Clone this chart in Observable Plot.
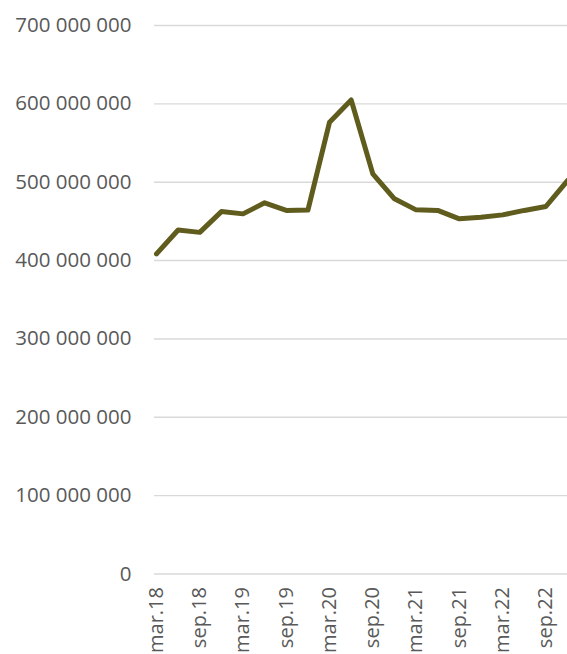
<!DOCTYPE html>
<html>
<head>
<meta charset="utf-8">
<script src="https://cdn.jsdelivr.net/npm/d3@7"></script>
<script src="https://cdn.jsdelivr.net/npm/@observablehq/plot@0.6"></script>
<style>
  html, body { margin: 0; padding: 0; background: #fff; overflow: hidden; }
  #chart svg { display: block; }
</style>
</head>
<body>
<div id="chart"></div>
<script>
// Quarterly periods and their values
const periods = [
  "mar.18", "jun.18", "sep.18", "des.18",
  "mar.19", "jun.19", "sep.19", "des.19",
  "mar.20", "jun.20", "sep.20", "des.20",
  "mar.21", "jun.21", "sep.21", "des.21",
  "mar.22", "jun.22", "sep.22", "des.22"
];
const values = [
  408500000, 439000000, 436000000, 462500000,
  459600000, 473700000, 464000000, 464500000,
  576600000, 605000000, 510700000, 478800000,
  464700000, 464000000, 453300000, 455300000,
  458300000, 464000000, 469000000, 502000000
];
// Labelled periods on the category axis (every second quarter)
const tickLabels = ["mar.18", "sep.18", "mar.19", "sep.19", "mar.20", "sep.20", "mar.21", "sep.21", "mar.22", "sep.22"];
const yTicks = [0, 100000000, 200000000, 300000000, 400000000, 500000000, 600000000, 700000000];

const data = periods.map((p, i) => ({period: p, value: values[i]}));

const fmt = d3.formatLocale({thousands: " ", grouping: [3], decimal: ","}).format(",");
const textColor = "#595959";
const font = "'Open Sans', sans-serif";

const chart = Plot.plot({
  width: 567,
  height: 654,
  marginTop: 25,
  marginBottom: 80.5,
  marginLeft: 156,
  marginRight: 0,
  style: {fontFamily: font, fontSize: "20px", color: textColor, background: "#fff"},
  x: {type: "point", domain: periods, padding: 0, round: false, axis: null},
  y: {domain: [0, 700000000], axis: null},
  marks: [
    Plot.ruleY(yTicks, {stroke: "#d9d9d9", strokeWidth: 1.4, insetLeft: -2}),
    Plot.axisY({ticks: yTicks, tickFormat: fmt, tickSize: 0, tickPadding: 25,
                fill: textColor, fontSize: 20.5, label: null}),
    Plot.text(tickLabels, {x: d => d, y: 0, dy: 13, rotate: -90, textAnchor: "end",
                           lineAnchor: "middle", fill: textColor, fontSize: 20}),
    Plot.line(data, {x: "period", y: "value", stroke: "#5f5c1e", strokeWidth: 5,
                     strokeLinejoin: "round", strokeLinecap: "round"})
  ]
});
document.getElementById("chart").append(chart);
</script>
</body>
</html>
